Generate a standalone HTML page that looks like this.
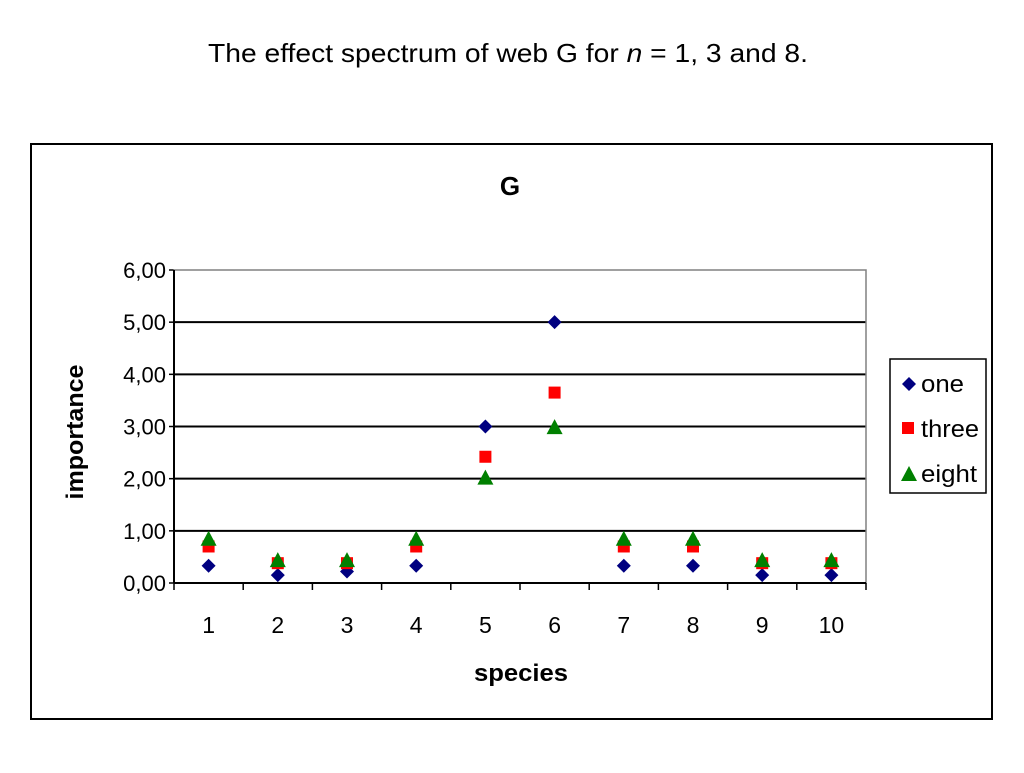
<!DOCTYPE html>
<html><head><meta charset="utf-8"><style>
body{margin:0;background:#fff;font-family:"Liberation Sans",Arial,sans-serif}
</style></head><body>
<svg width="1024" height="768" xmlns="http://www.w3.org/2000/svg" font-family="Liberation Sans, Arial, sans-serif">
<text x="208" y="62" font-size="26" textLength="600" lengthAdjust="spacingAndGlyphs">The effect spectrum of web G for <tspan font-style="italic">n</tspan> = 1, 3 and 8.</text>
<rect x="31" y="144" width="961" height="575" fill="#fff" stroke="#000" stroke-width="2"/>
<text x="510" y="195" font-size="26" font-weight="bold" text-anchor="middle">G</text>
<g id="plot"></g>
<text transform="translate(83,432) rotate(-90)" font-size="24" font-weight="bold" text-anchor="middle" textLength="135" lengthAdjust="spacingAndGlyphs">importance</text>
<text x="521" y="681" font-size="24" font-weight="bold" text-anchor="middle" textLength="94" lengthAdjust="spacingAndGlyphs">species</text>
<g>
<rect x="890" y="359" width="96" height="134" fill="#fff" stroke="#000" stroke-width="1.5"/>
<polygon points="909,377 916,384 909,391 902,384" fill="#000080"/>
<text x="921" y="392" font-size="24" textLength="43" lengthAdjust="spacingAndGlyphs">one</text>
<rect x="902" y="422" width="12" height="12" fill="#ff0000"/>
<text x="921" y="437" font-size="24" textLength="58" lengthAdjust="spacingAndGlyphs">three</text>
<polygon points="909,466 917,481 901,481" fill="#008000"/>
<text x="921" y="482" font-size="24" textLength="56" lengthAdjust="spacingAndGlyphs">eight</text>
</g>
</svg>
<script>
const categories=["1","2","3","4","5","6","7","8","9","10"];
const seriesOne=[0.33,0.15,0.22,0.33,3.0,5.0,0.33,0.33,0.15,0.15];
const seriesThree=[0.7,0.38,0.38,0.7,2.42,3.65,0.7,0.7,0.38,0.38];
const seriesEight=[0.83,0.42,0.42,0.83,2.0,2.97,0.83,0.83,0.42,0.42];
const yTicks=[0,1,2,3,4,5,6];
const yTickLabels=["0,00","1,00","2,00","3,00","4,00","5,00","6,00"];
const NS="http://www.w3.org/2000/svg";
const L=174,R=866,T=270,B=583,yMax=6;
const n=categories.length,bw=(R-L)/n;
const x=i=>L+bw*(i+0.5);
const y=v=>B-(v/yMax)*(B-T);
const g=document.getElementById('plot');
function mk(tag,attrs){const e=document.createElementNS(NS,tag);for(const k in attrs)e.setAttribute(k,attrs[k]);g.appendChild(e);return e;}
yTicks.forEach((t,i)=>{
 if(t>0&&t<yMax){const l=mk('line',{x1:L,x2:R,y1:y(t),y2:y(t),stroke:'#000','stroke-width':2});
 
 }
 const tk=mk('line',{x1:L-5,x2:L,y1:y(t),y2:y(t),stroke:'#000','stroke-width':1.5});
 
 
 const tx=mk('text',{x:L-8,y:y(t)+8,'font-size':22,'text-anchor':'end'});
 tx.textContent=yTickLabels[i];
 
 
});
const f=mk('rect',{x:L,y:T,width:R-L,height:B-T,fill:'none',stroke:'#808080','stroke-width':1.5});


const ax=mk('line',{x1:L,x2:R,y1:B,y2:B,stroke:'#000','stroke-width':2});


const ay=mk('line',{x1:L,x2:L,y1:T,y2:B,stroke:'#000','stroke-width':2});


for(let i=0;i<=n;i++){const tk=mk('line',{x1:L+bw*i,x2:L+bw*i,y1:B,y2:B+7,stroke:'#000','stroke-width':1.5});
 
 }
categories.forEach((c,i)=>{
 const tx=mk('text',{x:x(i),y:633,'font-size':23,'text-anchor':'middle'});
 tx.textContent=c;
 
 
 const yo=y(seriesOne[i]);
 const d=mk('polygon',{points:`${x(i)},${yo-7} ${x(i)+7},${yo} ${x(i)},${yo+7} ${x(i)-7},${yo}`,fill:'#000080'});
 
 
 const yt=y(seriesThree[i]);
 const s=mk('rect',{x:x(i)-6,y:yt-6,width:12,height:12,fill:'#ff0000'});
 
 
 const ye=y(seriesEight[i]);
 const tr=mk('polygon',{points:`${x(i)},${ye-9} ${x(i)+8},${ye+6} ${x(i)-8},${ye+6}`,fill:'#008000'});
 
 
});
</script>
</body></html>
